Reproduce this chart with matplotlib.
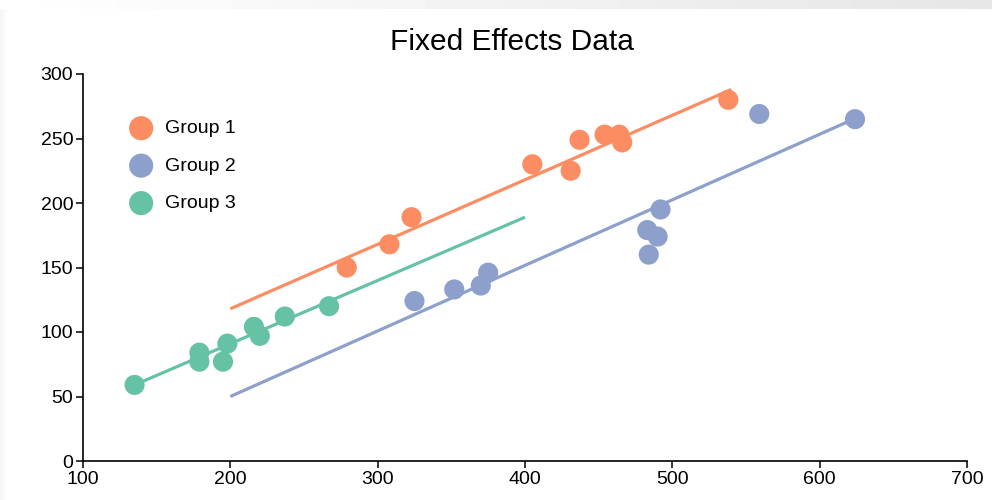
import numpy as np
import matplotlib
matplotlib.use("Agg")
import matplotlib.pyplot as plt

plt.rcParams['font.family'] = ['Liberation Sans', 'DejaVu Sans']

# ---- data ----
g1_x = [279, 308, 323, 405, 431, 437, 454, 464, 466, 538]
g1_y = [150, 168, 189, 230, 225, 249, 253, 253, 247, 280]
g2_x = [325, 352, 370, 375, 483, 490, 484, 492, 559, 624]
g2_y = [124, 133, 136, 146, 179, 174, 160, 195, 269, 265]
g3_x = [135, 179, 179, 195, 198, 216, 220, 237, 267]
g3_y = [59, 84, 77, 77, 91, 104, 97, 112, 120]

# fitted lines (start/end)
g1_line_x = [200, 540]
g1_line_y = [118, 288]
g2_line_x = [200, 625]
g2_line_y = [50, 266]
g3_line_x = [135, 400]
g3_line_y = [59, 189]

labels = ["Group 1", "Group 2", "Group 3"]
colors = ["#fc8d62", "#8da0cb", "#66c2a5"]

x_ticks = [100, 200, 300, 400, 500, 600, 700]
y_ticks = [0, 50, 100, 150, 200, 250, 300]

fig = plt.figure(figsize=(9.92, 5.0), dpi=100)

# top screenshot gradient band
band = fig.add_axes([0, 1 - 9 / 500, 1, 9 / 500])
grad = np.linspace(1.0, 0.9, 256)[None, :]
band.imshow(grad, aspect='auto', cmap='gray', vmin=0, vmax=1, extent=[0, 1, 0, 1])
band.axis('off')

# faint left shadow
lband = fig.add_axes([0, 0, 8 / 992, 1 - 9 / 500])
lgrad = np.linspace(0.96, 1.0, 64)[None, :]
lband.imshow(lgrad, aspect='auto', cmap='gray', vmin=0, vmax=1, extent=[0, 1, 0, 1])
lband.axis('off')

ax = fig.add_axes([83 / 992, 39 / 500, 884 / 992, 387 / 500])

series = [(g1_x, g1_y, g1_line_x, g1_line_y),
          (g2_x, g2_y, g2_line_x, g2_line_y),
          (g3_x, g3_y, g3_line_x, g3_line_y)]
for (sx, sy, lx, ly), lab, c in zip(series, labels, colors):
    ax.plot(lx, ly, color=c, lw=2.3, solid_capstyle='butt', zorder=2)
    ax.scatter(sx, sy, s=210, color=c, edgecolors='none', label=lab, zorder=3)

ax.set_xlim(100, 700)
ax.set_ylim(0, 300)
ax.set_xticks(x_ticks)
ax.set_yticks(y_ticks)
for s in ['top', 'right']:
    ax.spines[s].set_visible(False)
for s in ['left', 'bottom']:
    ax.spines[s].set_linewidth(1.2)
    ax.spines[s].set_color('black')
ax.tick_params(direction='out', length=5, width=1.1, labelsize=14, pad=2, colors='black')

ax.set_title("Fixed Effects Data", fontsize=21.5, pad=17, x=0.4847)

leg = ax.legend(loc='upper left', bbox_to_anchor=(0.035, 0.902), frameon=False,
                fontsize=14, labelspacing=1.02, handletextpad=0.25,
                borderaxespad=0, scatterpoints=1, markerscale=1.2)

fig.savefig("out.png", dpi=100, facecolor='white')
